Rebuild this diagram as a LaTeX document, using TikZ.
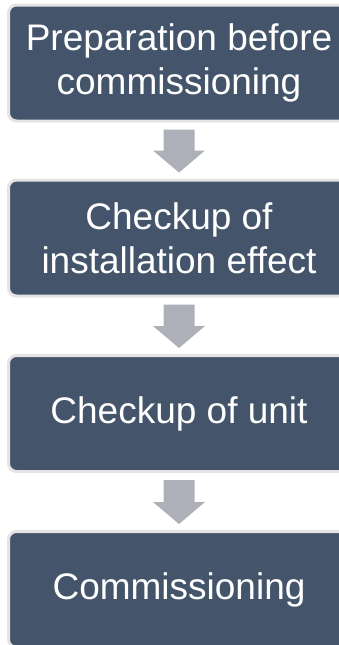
\documentclass[tikz,border=0pt]{standalone}
\usepackage{fontspec}
\setmainfont{Liberation Sans}
\usetikzlibrary{calc}
\definecolor{boxfill}{HTML}{44546A}
\definecolor{boxedge}{HTML}{E4E4E4}
\definecolor{arrowgray}{HTML}{ADB0B8}
\tikzset{
  stepbox/.style={draw=boxedge, fill=boxfill, line width=3pt, rounded corners=8pt,
    minimum width=341pt, minimum height=116pt, inner sep=0pt, text=white,
    align=center, font=\fontsize{37}{44}\selectfont},
  blockarrow/.style={fill=arrowgray}
}
\begin{document}
\begin{tikzpicture}[x=1pt,y=1pt]
\useasboundingbox (0,0) rectangle (339,-645);
\clip (0,0) rectangle (339,-645);
\fill[white] (0,0) rectangle (339,-645);
\node[stepbox] (b1) at (179,-63) {Preparation before\\commissioning};
\node[stepbox] (b2) at (179,-238) {Checkup of\\installation effect};
\node[stepbox] (b3) at (179,-413.5) {Checkup of unit};
\node[stepbox] (b4) at (179,-589.5) {Commissioning};
\foreach \u/\v in {b1/b2, b2/b3, b3/b4}{
  \coordinate (s-\u) at ($(\u.south)+(0,-7)$);
  \coordinate (t-\u) at ($(\v.north)+(0,6)$);
  \fill[blockarrow] ($(s-\u)+(-15.5,0)$) -- ($(s-\u)+(15.5,0)$)
    -- ($(t-\u)+(15.5,22)$) -- ($(t-\u)+(26,22)$) -- (t-\u)
    -- ($(t-\u)+(-26,22)$) -- ($(t-\u)+(-15.5,22)$) -- cycle;
}
\end{tikzpicture}
\end{document}
